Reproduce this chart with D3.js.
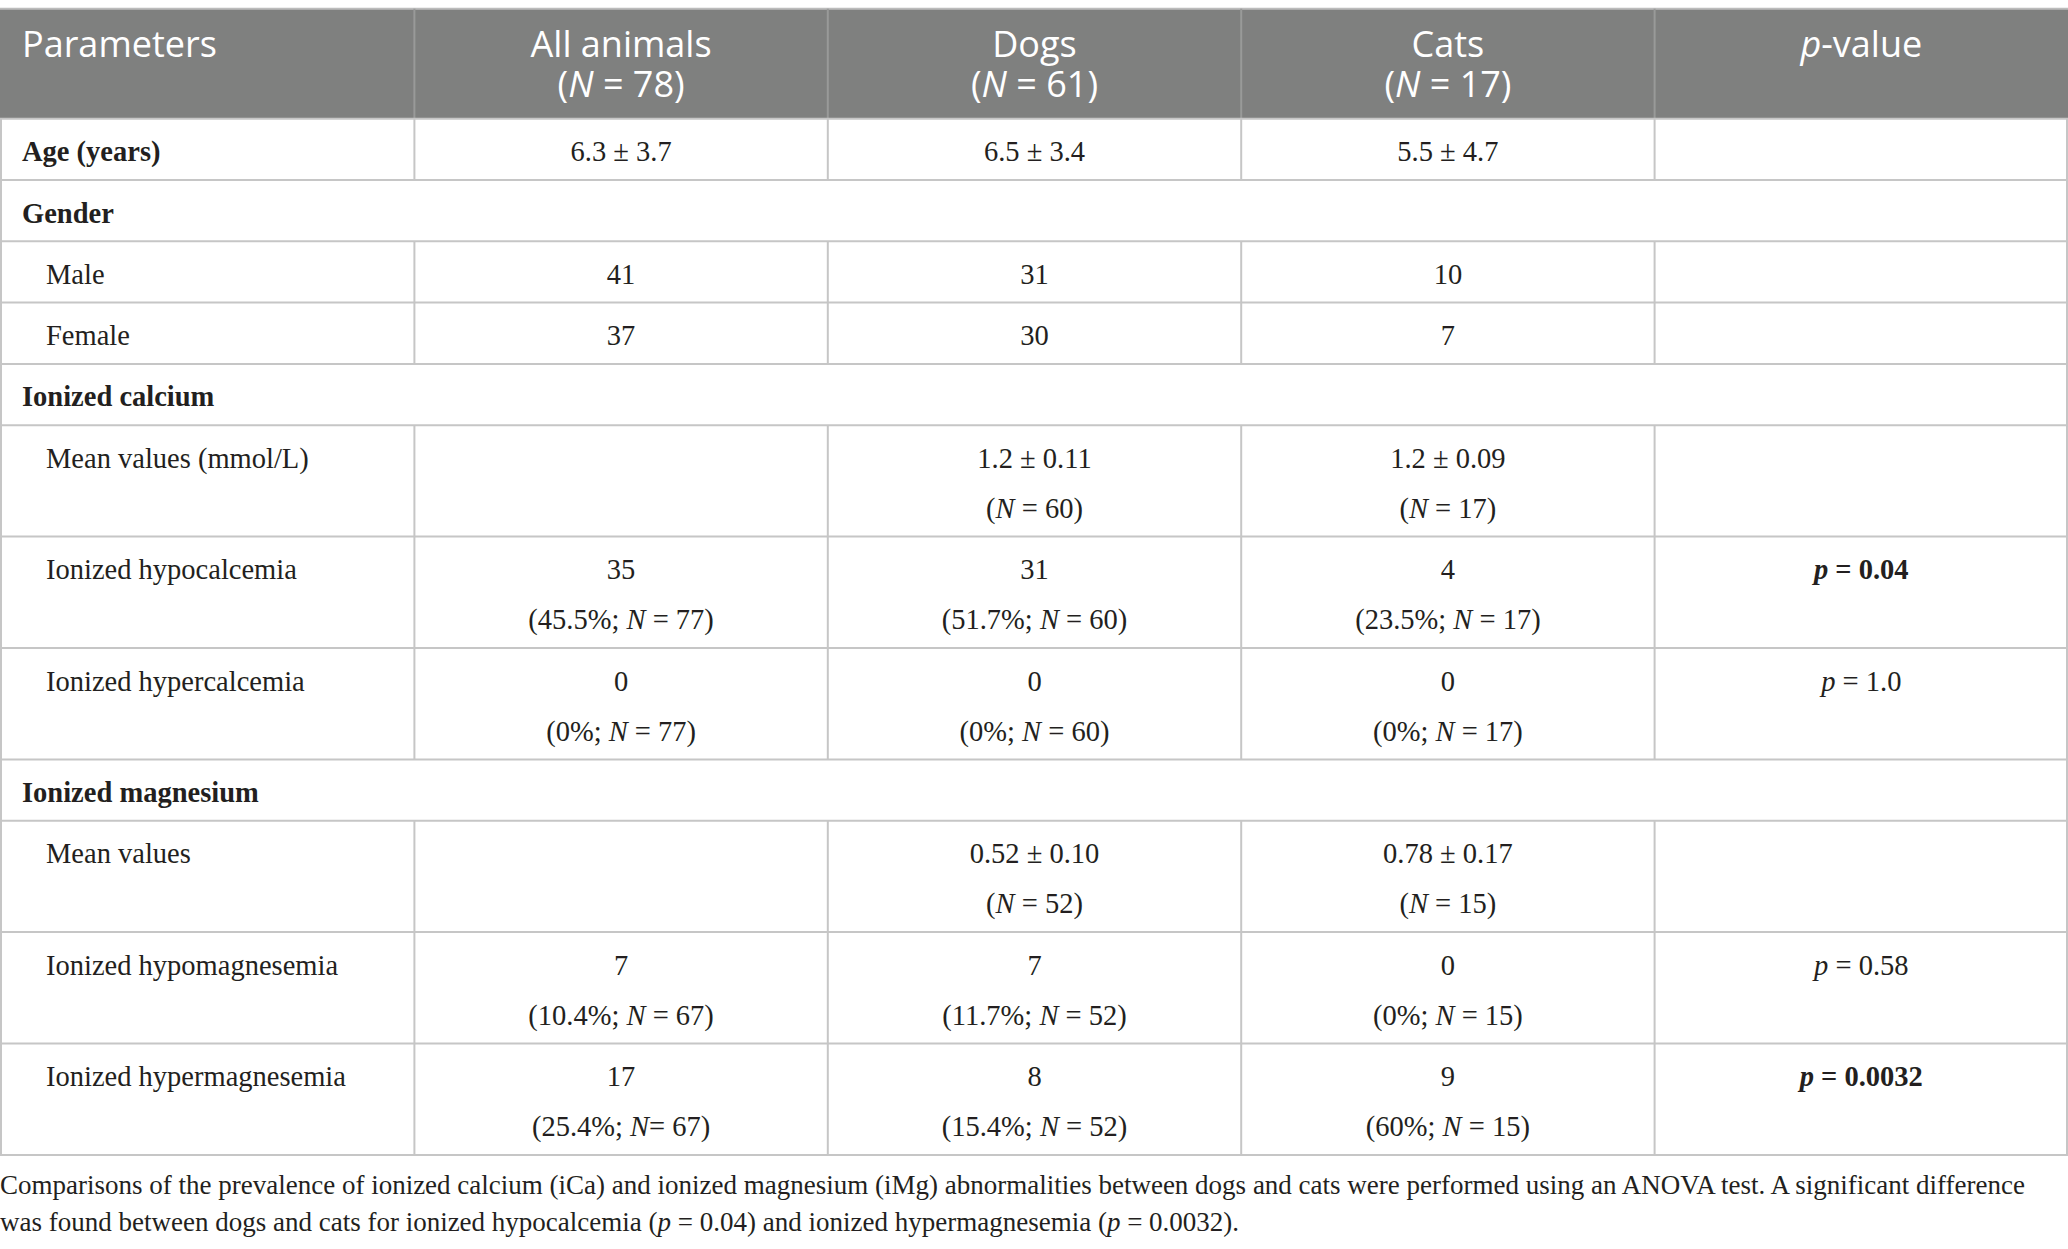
<!DOCTYPE html>
<html>
<head>
<meta charset="utf-8">
<script src="https://cdn.jsdelivr.net/npm/d3@7"></script>
<style>
  body { margin: 0; background: #fff; }
  svg { display: block; }
</style>
</head>
<body>
<div id="table"></div>
<script>

// column headers (_x_ = italic)
const headers = ["Parameters", "All animals", "Dogs", "Cats", "_p_-value"];
const headerSub = ["", "(_N_ = 78)", "(_N_ = 61)", "(_N_ = 17)", ""];

// row labels, level 0 = bold top-level, 1 = indented
const rowLabels = ["Age (years)", "Gender", "Male", "Female", "Ionized calcium",
  "Mean values (mmol/L)", "Ionized hypocalcemia", "Ionized hypercalcemia",
  "Ionized magnesium", "Mean values", "Ionized hypomagnesemia", "Ionized hypermagnesemia"];
const rowLevel = [0, 0, 1, 1, 0, 1, 1, 1, 0, 1, 1, 1];
// section rows have no cells at all
const sectionRows = ["Gender", "Ionized calcium", "Ionized magnesium"];

const allAnimals = [["6.3 ± 3.7"], null, ["41"], ["37"], null, [""],
  ["35", "(45.5%; _N_ = 77)"], ["0", "(0%; _N_ = 77)"], null, [""],
  ["7", "(10.4%; _N_ = 67)"], ["17", "(25.4%; _N_= 67)"]];
const dogs = [["6.5 ± 3.4"], null, ["31"], ["30"], null, ["1.2 ± 0.11", "(_N_ = 60)"],
  ["31", "(51.7%; _N_ = 60)"], ["0", "(0%; _N_ = 60)"], null, ["0.52 ± 0.10", "(_N_ = 52)"],
  ["7", "(11.7%; _N_ = 52)"], ["8", "(15.4%; _N_ = 52)"]];
const cats = [["5.5 ± 4.7"], null, ["10"], ["7"], null, ["1.2 ± 0.09", "(_N_ = 17)"],
  ["4", "(23.5%; _N_ = 17)"], ["0", "(0%; _N_ = 17)"], null, ["0.78 ± 0.17", "(_N_ = 15)"],
  ["0", "(0%; _N_ = 15)"], ["9", "(60%; _N_ = 15)"]];
const pValues = [[""], null, [""], [""], null, [""],
  ["_p_ = 0.04"], ["_p_ = 1.0"], null, [""],
  ["_p_ = 0.58"], ["_p_ = 0.0032"]];
const pSignificant = [false, false, false, false, false, false, true, false, false, false, false, true];

const caption = [
  "Comparisons of the prevalence of ionized calcium (iCa) and ionized magnesium (iMg) abnormalities between dogs and cats were performed using an ANOVA test. A significant difference",
  "was found between dogs and cats for ionized hypocalcemia (_p_ = 0.04) and ionized hypermagnesemia (_p_ = 0.0032)."
];

const width = 2068, height = 1249;
const headTop = 8.7, headBottom = 118.7;
const singleH = 61.3, doubleH = 111.4;
const serif = "'Liberation Serif', 'Times New Roman', serif";
const sans = "'Open Sans', 'Noto Sans', sans-serif";
const ink = "#231f20";
const grid = "#c6c6c6";

let svg = d3.select("#table").append("svg")
  .attr("width", width)
  .attr("height", height);

let x = d3.scaleBand()
  .domain(d3.range(headers.length))
  .range([1, width]);

let columnsData = [allAnimals, dogs, cats, pValues];

let rows = rowLabels.map((label, i) => {
  let cells = columnsData.map(c => c[i]);
  let twoLines = cells.some(c => c && c.length > 1);
  return {label, level: rowLevel[i], cells, section: sectionRows.includes(label),
    h: twoLines ? doubleH : singleH, bold: pSignificant[i]};
});
let tops = [headBottom, ...d3.cumsum(rows, r => r.h).map(v => v + headBottom)];
rows.forEach((r, i) => { r.y0 = tops[i]; r.y1 = tops[i + 1]; });

// writes "_x_" parts as italic tspans
function rich(parent, str) {
  str.split(/(_[^_]+_)/).filter(s => s.length).forEach(part => {
    let it = part.startsWith("_") && part.endsWith("_");
    parent.append("tspan")
      .attr("font-style", it ? "italic" : null)
      .text(it ? part.slice(1, -1) : part);
  });
}

// header
svg.append("rect")
  .attr("x", 0).attr("y", headTop)
  .attr("width", width).attr("height", headBottom - headTop)
  .attr("fill", "#7f807f");
svg.append("line")
  .attr("x1", 0).attr("x2", width)
  .attr("y1", headTop).attr("y2", headTop)
  .attr("stroke", "#bcbcbc").attr("stroke-width", 2);
d3.range(1, headers.length).forEach(i => {
  svg.append("line")
    .attr("x1", x(i)).attr("x2", x(i))
    .attr("y1", headTop).attr("y2", headBottom)
    .attr("stroke", "#999a99").attr("stroke-width", 2);
});

headers.forEach((h, i) => {
  let left = i == 0;
  let cx = left ? 22 : x(i) + x.bandwidth() / 2;
  let t = svg.append("text")
    .attr("text-anchor", left ? "start" : "middle")
    .attr("font-family", sans)
    .attr("font-size", 36)
    .attr("font-weight", 500)
    .attr("fill", "#fff");
  [h, headerSub[i]].forEach((line, k) => {
    if (!line) return;
    let ln = t.append("tspan").attr("x", cx).attr("y", 57 + k * 40);
    rich(ln, line);
  });
});

// body grid
let g = svg.append("g");
rows.forEach(r => {
  g.append("line")
    .attr("x1", 0).attr("x2", width)
    .attr("y1", r.y1).attr("y2", r.y1)
    .attr("stroke", grid).attr("stroke-width", 2);
  [1, width - 1].forEach(xx => {
    g.append("line")
      .attr("x1", xx).attr("x2", xx)
      .attr("y1", r.y0).attr("y2", r.y1)
      .attr("stroke", grid).attr("stroke-width", 2);
  });
  if (!r.section) {
    d3.range(1, headers.length).forEach(i => {
      g.append("line")
        .attr("x1", x(i)).attr("x2", x(i))
        .attr("y1", r.y0).attr("y2", r.y1)
        .attr("stroke", grid).attr("stroke-width", 2);
    });
  }
});
g.append("line")
  .attr("x1", 0).attr("x2", width)
  .attr("y1", headBottom).attr("y2", headBottom)
  .attr("stroke", grid).attr("stroke-width", 2);

// body text
rows.forEach(r => {
  svg.append("text")
    .attr("x", r.level ? 46 : 22)
    .attr("y", r.y0 + 42.5)
    .attr("font-family", serif)
    .attr("font-size", 28.5)
    .attr("font-weight", r.level ? 400 : 700)
    .attr("fill", ink)
    .text(r.label);

  r.cells.forEach((cell, c) => {
    if (!cell) return;
    cell.forEach((line, k) => {
      if (!line) return;
      let t = svg.append("text")
        .attr("x", x(c + 1) + x.bandwidth() / 2)
        .attr("y", r.y0 + 42.5 + k * 50)
        .attr("text-anchor", "middle")
        .attr("font-family", serif)
        .attr("font-size", 28.5)
        .attr("font-weight", c == 3 && r.bold ? 700 : 400)
        .attr("fill", ink);
      rich(t, line);
    });
  });
});

// caption
caption.forEach((line, k) => {
  let t = svg.append("text")
    .attr("x", 0)
    .attr("y", 1194 + k * 37)
    .attr("font-family", serif)
    .attr("font-size", 27)
    .attr("fill", ink);
  rich(t, line);
});

</script>
</body>
</html>
